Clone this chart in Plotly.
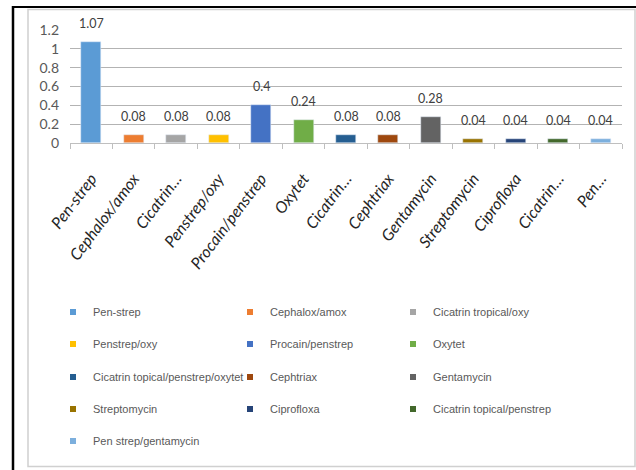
import plotly.graph_objects as go

# Antibiotic usage data
names = ["Pen-strep", "Cephalox/amox", "Cicatrin tropical/oxy", "Penstrep/oxy",
         "Procain/penstrep", "Oxytet", "Cicatrin topical/penstrep/oxytet",
         "Cephtriax", "Gentamycin", "Streptomycin", "Ciprofloxa",
         "Cicatrin topical/penstrep", "Pen strep/gentamycin"]
tick_labels = ["Pen-strep", "Cephalox/amox", "Cicatrin…", "Penstrep/oxy",
               "Procain/penstrep", "Oxytet", "Cicatrin…", "Cephtriax",
               "Gentamycin", "Streptomycin", "Ciprofloxa", "Cicatrin…", "Pen…"]
values = [1.07, 0.08, 0.08, 0.08, 0.4, 0.24, 0.08, 0.08, 0.28, 0.04, 0.04, 0.04, 0.04]
colors = ["#5B9BD5", "#ED7D31", "#A5A5A5", "#FFC000", "#4472C4", "#70AD47",
          "#255E91", "#9E480E", "#636363", "#997300", "#264478", "#43682B",
          "#7CAFDD"]
y_ticks = [0, 0.2, 0.4, 0.6, 0.8, 1, 1.2]

W, H = 636, 470
ML, MR, MT, MB = 70, 14, 30, 327
PW, PH = W - ML - MR, H - MT - MB

FONT = "Lato, Roboto, sans-serif"
LEGEND_FONT = "Liberation Sans, Arial, sans-serif"


def px_x(p):
    return (p - ML) / PW


def px_y(p):
    return (H - MB - p) / PH


fig = go.Figure()
xs = list(range(len(values)))

# One bar per category, each with its own colour
for i, (v, c) in enumerate(zip(values, colors)):
    fig.add_trace(go.Bar(x=[i], y=[v], marker_color=c, width=0.47,
                         showlegend=False, hoverinfo="skip"))

# Legend grid: three columns, one small legend box per entry
n_cols = 3
col_left = [53, 230, 393]
row_centers = [312, 344, 377, 409, 441]
legend_cfg = {}
for i, (n, c) in enumerate(zip(names, colors)):
    key = "legend" if i == 0 else f"legend{i + 1}"
    r, k = divmod(i, n_cols)
    legend_cfg[key] = dict(
        orientation="h", xref="container", yref="container",
        x=col_left[k] / W, y=1 - row_centers[r] / H,
        xanchor="left", yanchor="middle", itemwidth=30,
        bgcolor="rgba(0,0,0,0)", borderwidth=0,
        font=dict(family=LEGEND_FONT, size=11, color="#595959"),
    )
    fig.add_trace(go.Scatter(x=[None], y=[None], mode="markers", name=n,
                             marker=dict(symbol="square", size=6, color=c),
                             legend=key))

# Value labels above each bar
for i, v in enumerate(values):
    fig.add_annotation(x=i, y=v, text=f"{v:g}", showarrow=False,
                       yanchor="bottom", yshift=9,
                       font=dict(family=FONT, size=12.5, color="#404040"))

shapes = [
    # outer frame lines
    dict(type="line", xref="paper", yref="paper", x0=px_x(13), x1=px_x(13),
         y0=px_y(6), y1=px_y(472), line=dict(color="black", width=2.5)),
    dict(type="line", xref="paper", yref="paper", x0=px_x(12), x1=px_x(640),
         y0=px_y(7), y1=px_y(7), line=dict(color="black", width=2)),
    # chart area border
    dict(type="rect", xref="paper", yref="paper", x0=px_x(28), x1=px_x(635),
         y0=px_y(466.5), y1=px_y(9.5), line=dict(color="#d0d0d0", width=1.5)),
]

fig.update_layout(
    width=W, height=H,
    margin=dict(l=ML, r=MR, t=MT, b=MB),
    paper_bgcolor="white", plot_bgcolor="white",
    bargap=0, showlegend=True,
    shapes=shapes,
    **legend_cfg,
)

fig.update_xaxes(
    range=[-0.5, len(values) - 0.5],
    tickmode="array", tickvals=xs, ticktext=tick_labels,
    tickangle=-53, ticks="", showgrid=False, ticklabelstandoff=19,
    showline=True, linecolor="#bfbfbf", linewidth=1,
    tickfont=dict(family=FONT, size=16, color="#262626", style="italic"),
    minor=dict(tickmode="array", tickvals=[i - 0.5 for i in range(len(values) + 1)],
               ticks="outside", ticklen=5, tickcolor="#bfbfbf", showgrid=False),
    zeroline=False,
)
fig.update_yaxes(
    range=[0, 1.2], tickmode="array", tickvals=y_ticks,
    ticktext=[f"{t:g}" for t in y_ticks],
    showgrid=True, gridcolor="#b3b3b3", gridwidth=1,
    zeroline=False, showline=False, ticks="", ticklabelstandoff=10,
    tickfont=dict(family=FONT, size=14, color="#595959"),
)

fig.write_html("out.html")
